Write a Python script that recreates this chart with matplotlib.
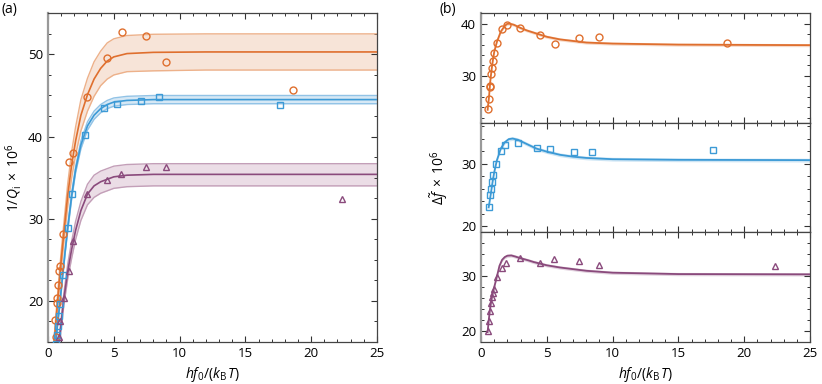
import matplotlib
matplotlib.use("Agg")
import matplotlib.pyplot as plt
from matplotlib.ticker import MultipleLocator

plt.rcParams['font.family'] = ['Open Sans', 'DejaVu Sans']
plt.rcParams['mathtext.fontset'] = 'custom'
plt.rcParams['mathtext.rm'] = 'Open Sans'
plt.rcParams['mathtext.it'] = 'Open Sans:italic'
plt.rcParams['mathtext.bf'] = 'Open Sans:bold'

# ---------------- data: panel (a) ----------------
a_orange_x = [0.53, 0.58, 0.66, 0.68, 0.76, 0.84, 0.89, 1.16, 1.57, 1.93, 2.99, 4.46, 5.62, 7.45, 8.94, 18.64]
a_orange_y = [17.7, 15.65, 19.7, 20.3, 21.95, 23.65, 24.3, 28.2, 36.85, 37.97, 44.8, 49.55, 52.7, 52.3, 49.1, 45.7]
a_blue_x = [0.58, 0.66, 0.74, 0.80, 0.90, 1.13, 1.49, 1.81, 2.81, 4.23, 5.27, 7.04, 8.43, 17.63]
a_blue_y = [14.8, 15.8, 17.0, 18.2, 19.6, 23.2, 28.9, 33.0, 40.2, 43.5, 44.0, 44.3, 44.8, 43.9]
a_purple_x = [0.84, 0.91, 1.19, 1.60, 1.93, 2.96, 4.46, 5.57, 7.42, 8.94, 22.34]
a_purple_y = [15.65, 17.6, 20.4, 23.7, 27.3, 33.0, 34.7, 35.5, 36.3, 36.3, 32.35]

a_orange_fit_x = [0.40, 0.60, 0.80, 1.00, 1.20, 1.50, 1.80, 2.10, 2.50, 3.00, 3.50, 4.00, 4.50, 5.00, 6.00, 8.00, 12.0, 25.0]
a_orange_fit = [13.5, 17.5, 21.3, 24.9, 28.2, 32.9, 36.6, 39.5, 42.6, 45.1, 47.0, 48.3, 49.2, 49.7, 50.1, 50.25, 50.3, 50.3]
a_orange_hi = [14.1, 18.3, 22.2, 26.0, 29.4, 34.3, 38.2, 41.2, 44.5, 47.1, 49.1, 50.4, 51.4, 51.9, 52.3, 52.45, 52.5, 52.5]
a_orange_lo = [12.9, 16.7, 20.4, 23.8, 27.0, 31.5, 35.0, 37.8, 40.7, 43.1, 44.9, 46.2, 47.0, 47.5, 47.9, 48.0, 48.1, 48.1]

a_blue_fit_x = [0.50, 0.70, 0.90, 1.10, 1.30, 1.50, 1.80, 2.10, 2.50, 3.00, 3.50, 4.00, 4.50, 5.00, 6.00, 8.00, 12.0, 25.0]
a_blue_fit = [13.3, 16.8, 19.7, 22.9, 26.0, 28.9, 32.8, 36.0, 39.0, 41.3, 42.6, 43.4, 43.9, 44.2, 44.4, 44.5, 44.5, 44.5]
a_blue_hi = [13.5, 17.0, 20.0, 23.2, 26.3, 29.3, 33.2, 36.4, 39.5, 41.8, 43.1, 43.9, 44.4, 44.7, 44.9, 45.0, 45.0, 45.0]
a_blue_lo = [13.1, 16.6, 19.4, 22.6, 25.7, 28.5, 32.4, 35.6, 38.5, 40.8, 42.1, 42.9, 43.4, 43.7, 43.9, 44.0, 44.0, 44.0]

a_purple_fit_x = [0.80, 1.00, 1.20, 1.50, 1.80, 2.10, 2.50, 3.00, 3.50, 4.00, 4.50, 5.00, 6.00, 8.00, 12.0, 25.0]
a_purple_fit = [14.3, 17.3, 20.2, 23.6, 26.3, 28.6, 31.0, 33.0, 34.0, 34.5, 34.8, 35.1, 35.3, 35.4, 35.4, 35.4]
a_purple_hi = [14.8, 17.9, 20.9, 24.5, 27.3, 29.7, 32.1, 34.2, 35.3, 35.8, 36.1, 36.4, 36.6, 36.7, 36.7, 36.7]
a_purple_lo = [13.7, 16.6, 19.4, 22.7, 25.2, 27.5, 29.8, 31.7, 32.6, 33.1, 33.4, 33.7, 33.9, 34.0, 34.0, 34.0]

# ---------------- data: panel (b) ----------------
b_orange_x = [0.51, 0.58, 0.65, 0.68, 0.76, 0.81, 0.91, 0.99, 1.19, 1.62, 1.95, 2.96, 4.48, 5.60, 7.47, 8.97, 18.67]
b_orange_y = [23.6, 25.5, 27.9, 28.0, 30.4, 31.5, 32.9, 34.4, 36.3, 39.0, 39.7, 39.1, 37.9, 36.2, 37.2, 37.4, 36.4]
b_blue_x = [0.58, 0.66, 0.74, 0.80, 0.90, 1.13, 1.49, 1.81, 2.81, 4.23, 5.27, 7.04, 8.43, 17.63]
b_blue_y = [23.0, 25.0, 26.0, 27.1, 28.1, 30.0, 31.95, 33.0, 33.3, 32.5, 32.3, 31.85, 31.8, 32.1]
b_purple_x = [0.51, 0.58, 0.66, 0.74, 0.84, 0.91, 1.01, 1.19, 1.60, 1.93, 2.96, 4.48, 5.57, 7.45, 8.96, 22.36]
b_purple_y = [20.05, 21.9, 23.6, 25.1, 26.3, 27.0, 27.7, 29.8, 31.5, 32.5, 33.3, 32.4, 33.1, 32.7, 32.1, 31.9]

b_orange_fit_x = [0.50, 0.60, 0.70, 0.80, 0.90, 1.00, 1.20, 1.50, 1.80, 2.00, 2.20, 2.50, 3.00, 3.50, 4.00, 4.50, 5.00, 6.00, 7.00, 8.00, 10.0, 15.0, 25.0]
b_orange_fit = [23.5, 25.8, 28.9, 31.2, 33.0, 34.6, 36.5, 38.5, 39.6, 40.0, 40.0, 39.8, 39.2, 38.7, 38.3, 37.9, 37.5, 37.0, 36.7, 36.4, 36.2, 36.0, 35.9]
b_blue_fit_x = [0.58, 0.70, 0.80, 0.90, 1.00, 1.20, 1.50, 1.80, 2.10, 2.40, 2.80, 3.20, 3.60, 4.20, 5.00, 6.00, 7.00, 8.00, 10.0, 15.0, 25.0]
b_blue_fit = [23.0, 24.6, 26.0, 27.4, 28.6, 30.5, 32.4, 33.4, 33.9, 34.0, 33.8, 33.4, 33.0, 32.4, 31.9, 31.4, 31.1, 30.9, 30.7, 30.6, 30.55]
b_purple_fit_x = [0.50, 0.60, 0.70, 0.80, 0.90, 1.00, 1.20, 1.40, 1.60, 1.80, 2.00, 2.30, 2.60, 3.00, 3.60, 4.00, 4.50, 5.00, 6.00, 7.00, 8.00, 10.0, 15.0, 25.0]
b_purple_fit = [19.8, 22.3, 24.3, 25.8, 27.0, 28.0, 29.9, 31.9, 33.0, 33.5, 33.75, 33.8, 33.6, 33.3, 32.9, 32.6, 32.3, 32.0, 31.6, 31.3, 31.0, 30.65, 30.4, 30.35]
b_band = 0.3

# ---------------- styles ----------------
C_OR = '#DF6F2E'
C_BL = '#3C9AD6'
C_PU = '#8A4A7C'
F_OR = '#F7E4D8'
F_BL = '#D6E8F5'
F_PU = '#EBDDE6'
E_OR = '#EDB18A'
E_BL = '#92C3E6'
E_PU = '#C39FB8'

fig = plt.figure(figsize=(8.22, 3.84), dpi=100)

def style_axes(ax, ymaj, ymin):
    ax.xaxis.set_major_locator(MultipleLocator(5))
    ax.xaxis.set_minor_locator(MultipleLocator(1))
    ax.yaxis.set_major_locator(MultipleLocator(ymaj))
    ax.yaxis.set_minor_locator(MultipleLocator(ymin))
    ax.tick_params(which='both', direction='in', top=True, right=True, labelsize=9.5, color='#333333')
    ax.tick_params(which='major', length=4, width=0.8)
    ax.tick_params(which='minor', length=2.5, width=0.7)
    for s in ax.spines.values():
        s.set_color('#444444')
        s.set_linewidth(0.9)
    ax.spines['left'].set_color('#999999')
    ax.spines['left'].set_linewidth(1.6)

mk = dict(mfc='none', ms=5, mew=1.0, ls='none')

# ---- panel (a) ----
axa = fig.add_axes([0.0584, 0.1094, 0.4002, 0.8559])
for fx, fy, hi, lo, c, f, e in [
        (a_orange_fit_x, a_orange_fit, a_orange_hi, a_orange_lo, C_OR, F_OR, E_OR),
        (a_blue_fit_x, a_blue_fit, a_blue_hi, a_blue_lo, C_BL, F_BL, E_BL),
        (a_purple_fit_x, a_purple_fit, a_purple_hi, a_purple_lo, C_PU, F_PU, E_PU)]:
    axa.fill_between(fx, lo, hi, color=f, lw=0, zorder=1)
    axa.plot(fx, hi, color=e, lw=1.0, zorder=2)
    axa.plot(fx, lo, color=e, lw=1.0, zorder=2)
    axa.plot(fx, fy, color=c, lw=1.2, zorder=3)
axa.plot(a_orange_x, a_orange_y, marker='o', mec=C_OR, zorder=4, **mk)
axa.plot(a_blue_x, a_blue_y, marker='s', mec=C_BL, zorder=4, **mk)
axa.plot(a_purple_x, a_purple_y, marker='^', mec=C_PU, zorder=4, **mk)
axa.set_xlim(0, 25)
axa.set_ylim(15, 55)
style_axes(axa, 10, 2.5)
axa.set_xlabel(r'$hf_0/(k_\mathrm{B}\,T)$', fontsize=10)
axa.set_ylabel(r'$1/Q_\mathrm{i}\;\times\;10^6$', fontsize=10, labelpad=3)

# ---- panel (b) ----
h = 0.8559 / 3
axes_b = []
specs = [
    (b_orange_fit_x, b_orange_fit, b_orange_x, b_orange_y, C_OR, F_OR, 'o', (21, 42)),
    (b_blue_fit_x, b_blue_fit, b_blue_x, b_blue_y, C_BL, F_BL, 's', (19, 36.5)),
    (b_purple_fit_x, b_purple_fit, b_purple_x, b_purple_y, C_PU, F_PU, '^', (18, 38)),
]
for i, (fx, fy, dx, dy, c, f, m, yl) in enumerate(specs):
    ax = fig.add_axes([0.5852, 0.1094 + (2 - i) * h, 0.4002, h])
    lo = [v - b_band for v in fy]
    hi = [v + b_band for v in fy]
    ax.fill_between(fx, lo, hi, color=c, alpha=0.25, lw=0, zorder=1)
    ax.plot(fx, fy, color=c, lw=1.3, zorder=3)
    ax.plot(dx, dy, marker=m, mec=c, zorder=4, **mk)
    ax.set_xlim(0, 25)
    ax.set_ylim(*yl)
    style_axes(ax, 10, 2)
    if i < 2:
        ax.tick_params(labelbottom=False)
    axes_b.append(ax)
axes_b[2].set_xlabel(r'$hf_0/(k_\mathrm{B}\,T)$', fontsize=10)
axes_b[1].set_ylabel(r'$\Delta\tilde{f}\;\times\;10^6$', fontsize=10, labelpad=8)

fig.text(0.002, 0.975, '(a)', fontsize=10, va='center', ha='left')
fig.text(0.535, 0.975, '(b)', fontsize=10, va='center', ha='left')

fig.savefig('out.png', dpi=100)
